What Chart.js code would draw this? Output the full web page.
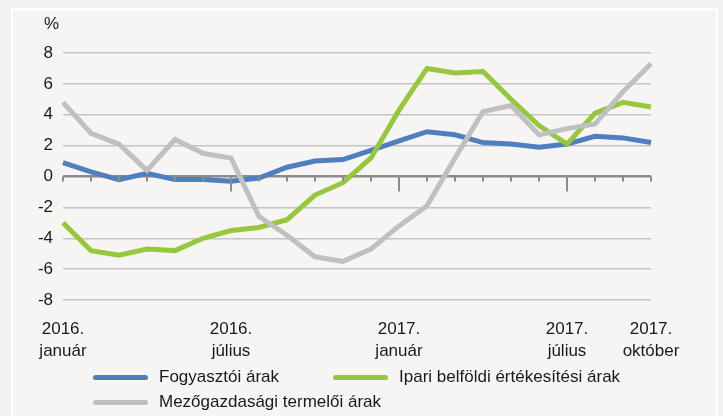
<!DOCTYPE html>
<html>
<head>
<meta charset="utf-8">
<script src="https://cdn.jsdelivr.net/npm/chart.js@4/dist/chart.umd.min.js"></script>
<style>
  html, body { margin: 0; padding: 0; background: #f3f2f0; }
  #wrap { position: relative; width: 723px; height: 416px; overflow: hidden; }
  #frame { position: absolute; left: 11px; top: 8px; width: 703px; height: 420px;
           border: 2px solid #ffffff; background: #f6f5f3; }
  canvas { position: absolute; left: 0; top: 0; }
  .legend { position: absolute; font-family: "Liberation Sans Narrow", "Liberation Sans", sans-serif;
            font-size: 17px; color: #1a1a1a; display: flex; align-items: center; white-space: nowrap; }
  .legend span.swatch { display: inline-block; width: 55px; height: 5px; border-radius: 3px; margin-right: 11px; }
</style>
</head>
<body>
<div id="wrap">
  <div id="frame"></div>
  <canvas id="chart" width="723" height="416"></canvas>
  <div class="legend" style="left:93px; top:367px;"><span class="swatch" style="background:#4f7fbf"></span>Fogyasztói árak</div>
  <div class="legend" style="left:333px; top:367px;"><span class="swatch" style="background:#96c73d"></span>Ipari belföldi értékesítési árak</div>
  <div class="legend" style="left:93px; top:392px;"><span class="swatch" style="background:#bfc0c2"></span>Mezőgazdasági termelői árak</div>
</div>
<script>
// Months shown on the x axis
const months = [
    '2016. január', '2016. február', '2016. március', '2016. április', '2016. május', '2016. június',
    '2016. július', '2016. augusztus', '2016. szeptember', '2016. október', '2016. november', '2016. december',
    '2017. január', '2017. február', '2017. március', '2017. április', '2017. május', '2017. június',
    '2017. július', '2017. augusztus', '2017. szeptember', '2017. október'
];
// Which months get a tick label
const labelledMonths = [0, 6, 12, 18, 21];
// Long tick marks on the zero line
const majorTicks = [6, 12, 18];
const yTicks = [-8, -6, -4, -2, 0, 2, 4, 6, 8];

const consumerPrices = [0.9, 0.3, -0.2, 0.2, -0.2, -0.2, -0.3, -0.1, 0.6, 1.0, 1.1, 1.7,
                        2.3, 2.9, 2.7, 2.2, 2.1, 1.9, 2.1, 2.6, 2.5, 2.2];
const industrialPrices = [-3.0, -4.8, -5.1, -4.7, -4.8, -4.0, -3.5, -3.3, -2.8, -1.2, -0.4, 1.2,
                          4.3, 7.0, 6.7, 6.8, 5.0, 3.3, 2.1, 4.1, 4.8, 4.5];
const agriPrices = [4.8, 2.8, 2.1, 0.4, 2.4, 1.5, 1.2, -2.6, -3.8, -5.2, -5.5, -4.7,
                    -3.2, -1.9, 1.2, 4.2, 4.6, 2.7, 3.1, 3.4, 5.5, 7.3];

const FONT = '"Liberation Sans Narrow", "Liberation Sans", sans-serif';

// Percent sign above the y axis and tick marks on the zero line
const extras = {
    id: 'extras',
    afterDatasetsDraw(chart) {
        const ctx = chart.ctx;
        const x = chart.scales.x;
        const y = chart.scales.y;
        const zero = y.getPixelForValue(0);
        ctx.save();
        ctx.strokeStyle = '#8c8c8c';
        ctx.lineWidth = 2;
        for (let i = 0; i < months.length; i++) {
            const px = Math.round(x.getPixelForValue(i));
            const len = majorTicks.includes(i) ? 15 : 5;
            ctx.beginPath();
            ctx.moveTo(px, zero);
            ctx.lineTo(px, zero + len);
            ctx.stroke();
        }
        ctx.restore();
    },
    afterDraw(chart) {
        const ctx = chart.ctx;
        ctx.save();
        ctx.font = '17px ' + FONT;
        ctx.fillStyle = '#1a1a1a';
        ctx.textAlign = 'left';
        ctx.textBaseline = 'middle';
        ctx.fillText('%', 44, 24);
        ctx.restore();
    }
};

function line(label, data, color) {
    return {
        label: label,
        data: data,
        borderColor: color,
        backgroundColor: color,
        borderWidth: 5,
        pointRadius: 0,
        tension: 0,
        borderCapStyle: 'butt',
        borderJoinStyle: 'miter'
    };
}

new Chart(document.getElementById('chart'), {
    type: 'line',
    data: {
        labels: months,
        datasets: [
            line('Mezőgazdasági termelői árak', agriPrices, '#bfc0c2'),
            line('Ipari belföldi értékesítési árak', industrialPrices, '#96c73d'),
            line('Fogyasztói árak', consumerPrices, '#4f7fbf')
        ]
    },
    options: {
        responsive: false,
        animation: false,
        layout: { padding: { top: 53, right: 72, left: 0, bottom: 0 } },
        plugins: { legend: { display: false }, tooltip: { enabled: false } },
        scales: {
            x: {
                offset: false,
                grid: { display: false },
                border: { display: false },
                afterFit(scale) { scale.height = 116; },
                ticks: {
                    autoSkip: false,
                    maxRotation: 0,
                    padding: 10,
                    color: '#1a1a1a',
                    font: { family: FONT, size: 17, lineHeight: 1.3 },
                    callback(value, index) {
                        if (!labelledMonths.includes(index)) return '';
                        return months[index].split(' ');
                    }
                }
            },
            y: {
                min: -8,
                max: 8,
                afterFit(scale) { scale.width = 63; },
                afterBuildTicks(scale) { scale.ticks = yTicks.map(v => ({ value: v })); },
                border: { display: false },
                grid: {
                    drawTicks: false,
                    color: ctx => ctx.tick && ctx.tick.value === 0 ? '#8c8c8c' : '#c4c4c4',
                    lineWidth: ctx => ctx.tick && ctx.tick.value === 0 ? 2.5 : 1.5
                },
                ticks: {
                    padding: 10,
                    color: '#1a1a1a',
                    font: { family: FONT, size: 17 }
                }
            }
        }
    },
    plugins: [extras]
});
</script>
</body>
</html>
